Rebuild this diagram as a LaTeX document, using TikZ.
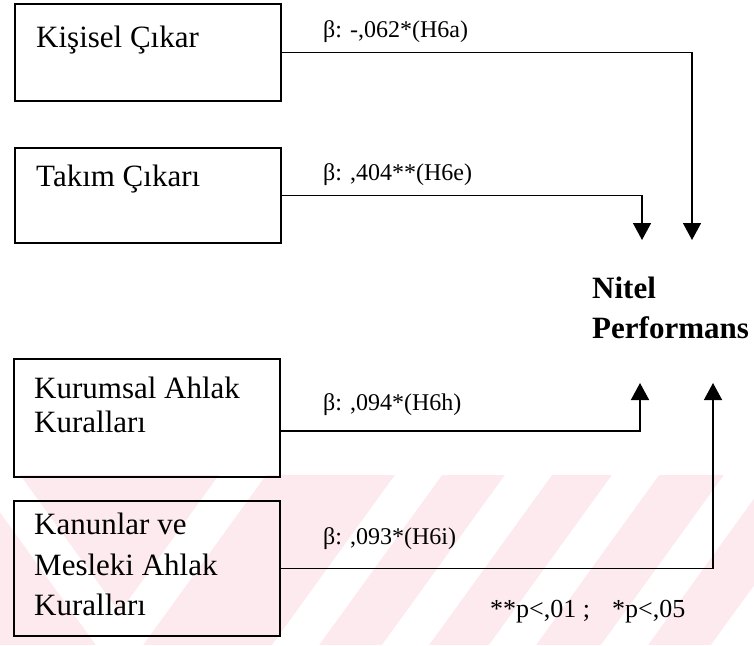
\documentclass[tikz,border=0pt]{standalone}
\usepackage{fontspec}
\setmainfont{Liberation Serif}
\usetikzlibrary{arrows.meta,positioning,calc}
\definecolor{wmpink}{RGB}{252,234,238}

\begin{document}
\begin{tikzpicture}[x=1pt,y=1pt,
    box/.style={draw,line width=1.5pt,minimum width=266pt,anchor=north west,inner sep=0pt},
    boxtext/.style={anchor=north west,align=left,inner sep=0pt},
    beta/.style={anchor=base west,inner sep=0pt,font=\fontsize{24}{28}\selectfont},
    link/.style={line width=1.5pt},
    arr/.style={line width=1.5pt,-{Triangle[width=18pt,length=17pt]}}]
    \useasboundingbox (0,0) rectangle (754,-645);

    % faint watermark band
    \begin{scope}
        \clip (0,-475) rectangle (754,-645);
        \fill[wmpink] (0,-475) rectangle (754,-645);
        \foreach \t in {219,395,505,612,724,834}
            \fill[white] (\t,-475) -- (\t+47,-475) -- (\t-76,-645) -- (\t-123,-645) -- cycle;
        \fill[white] (-27,-475) -- (20,-475) -- (143,-645) -- (96,-645) -- cycle;
    \end{scope}

    % predictors
    \node[box,minimum height=97pt] (kisisel) at (14,-3) {};
    \node[box,minimum height=95pt] (takim) at (14,-147) {};
    \node[box,minimum height=118pt] (kurumsal) at (13,-358) {};
    \node[box,minimum height=135pt] (kanun) at (13,-500) {};

    \node[boxtext,anchor=base west,font=\fontsize{31}{34}\selectfont] (kisiselT) at (36,-47) {Kişisel Çıkar};
    \node[boxtext,anchor=base west,font=\fontsize{31}{34}\selectfont] (takimT) at (36,-186) {Takım Çıkarı};
    \node[boxtext,font=\fontsize{31}{34}\selectfont] (kurumsalT) at (34,-377) {Kurumsal Ahlak\\Kuralları};
    \node[boxtext,font=\fontsize{31}{40.5}\selectfont] (kanunT) at (34,-513) {Kanunlar ve\\Mesleki Ahlak\\Kuralları};

    % outcome
    \node[boxtext,font=\bfseries\fontsize{31}{40}\selectfont] (nitel) at (592,-277) {Nitel\\Performans};
    \coordinate (tipA) at (692,-240);
    \coordinate (tipE) at (642,-240);
    \coordinate (tipH) at (640,-383);
    \coordinate (tipI) at (713,-383);

    % paths
    \draw[arr] (kisisel.east) -| (tipA);
    \draw[arr] (takim.east) -| (tipE);
    \draw[arr] ([yshift=-13pt]kurumsal.east) -| (tipH);
    \draw[arr] (kanun.east) -| (tipI);

    \node[beta] (bA) at (323,-37) {β: -,062*(H6a)};
    \node[beta] (bE) at (323,-180) {β: ,404**(H6e)};
    \node[beta] (bH) at (323,-410) {β: ,094*(H6h)};
    \node[beta] (bI) at (323,-544) {β: ,093*(H6i)};

    \node[beta,font=\fontsize{26}{30}\selectfont] (sig) at (490,-617) {**p<,01 ;\hspace{22pt}*p<,05};
\end{tikzpicture}
\end{document}
